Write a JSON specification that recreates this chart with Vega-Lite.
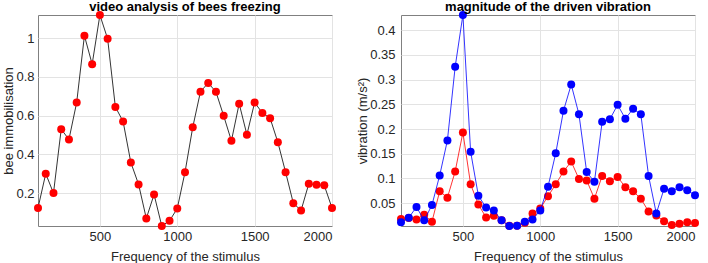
{
  "$schema": "https://vega.github.io/schema/vega-lite/v6.json",
  "padding": {"left": 2, "top": 0, "right": 0, "bottom": 0},
  "autosize": {"type": "pad"},
  "bounds": "flush",
  "spacing": 69,
  "datasets": {
    "bees": [
      {"freq": 100, "value": 0.123}, {"freq": 150, "value": 0.30}, {"freq": 200, "value": 0.20},
      {"freq": 250, "value": 0.53}, {"freq": 300, "value": 0.477}, {"freq": 350, "value": 0.668},
      {"freq": 400, "value": 1.013}, {"freq": 450, "value": 0.866}, {"freq": 500, "value": 1.12},
      {"freq": 550, "value": 0.997}, {"freq": 600, "value": 0.645}, {"freq": 650, "value": 0.57},
      {"freq": 700, "value": 0.358}, {"freq": 750, "value": 0.245}, {"freq": 800, "value": 0.069},
      {"freq": 850, "value": 0.193}, {"freq": 900, "value": 0.03}, {"freq": 950, "value": 0.057},
      {"freq": 1000, "value": 0.12}, {"freq": 1050, "value": 0.308}, {"freq": 1100, "value": 0.54},
      {"freq": 1150, "value": 0.724}, {"freq": 1200, "value": 0.769}, {"freq": 1250, "value": 0.723},
      {"freq": 1300, "value": 0.599}, {"freq": 1350, "value": 0.47}, {"freq": 1400, "value": 0.662},
      {"freq": 1450, "value": 0.502}, {"freq": 1500, "value": 0.668}, {"freq": 1550, "value": 0.614},
      {"freq": 1600, "value": 0.587}, {"freq": 1650, "value": 0.463}, {"freq": 1700, "value": 0.308},
      {"freq": 1750, "value": 0.148}, {"freq": 1800, "value": 0.11}, {"freq": 1850, "value": 0.248},
      {"freq": 1900, "value": 0.243}, {"freq": 1950, "value": 0.24}, {"freq": 2000, "value": 0.123}
    ],
    "vib": [
      {"freq": 100, "series": "red", "value": 0.018}, {"freq": 150, "series": "red", "value": 0.02},
      {"freq": 200, "series": "red", "value": 0.017}, {"freq": 250, "series": "red", "value": 0.0265},
      {"freq": 300, "series": "red", "value": 0.012}, {"freq": 350, "series": "red", "value": 0.074},
      {"freq": 400, "series": "red", "value": 0.061}, {"freq": 450, "series": "red", "value": 0.114},
      {"freq": 500, "series": "red", "value": 0.193}, {"freq": 550, "series": "red", "value": 0.088},
      {"freq": 600, "series": "red", "value": 0.047}, {"freq": 650, "series": "red", "value": 0.021},
      {"freq": 700, "series": "red", "value": 0.0245}, {"freq": 750, "series": "red", "value": 0.015},
      {"freq": 800, "series": "red", "value": 0.004}, {"freq": 850, "series": "red", "value": 0.004},
      {"freq": 900, "series": "red", "value": 0.01}, {"freq": 950, "series": "red", "value": 0.029},
      {"freq": 1000, "series": "red", "value": 0.039}, {"freq": 1050, "series": "red", "value": 0.064},
      {"freq": 1100, "series": "red", "value": 0.088}, {"freq": 1150, "series": "red", "value": 0.114},
      {"freq": 1200, "series": "red", "value": 0.134}, {"freq": 1250, "series": "red", "value": 0.099},
      {"freq": 1300, "series": "red", "value": 0.096}, {"freq": 1350, "series": "red", "value": 0.059},
      {"freq": 1400, "series": "red", "value": 0.105}, {"freq": 1450, "series": "red", "value": 0.094},
      {"freq": 1500, "series": "red", "value": 0.103}, {"freq": 1550, "series": "red", "value": 0.082},
      {"freq": 1600, "series": "red", "value": 0.074}, {"freq": 1650, "series": "red", "value": 0.059},
      {"freq": 1700, "series": "red", "value": 0.033}, {"freq": 1750, "series": "red", "value": 0.025},
      {"freq": 1800, "series": "red", "value": 0.013}, {"freq": 1850, "series": "red", "value": 0.0055},
      {"freq": 1900, "series": "red", "value": 0.008}, {"freq": 1950, "series": "red", "value": 0.011},
      {"freq": 2000, "series": "red", "value": 0.0097},
      {"freq": 100, "series": "blue", "value": 0.011}, {"freq": 150, "series": "blue", "value": 0.0205},
      {"freq": 200, "series": "blue", "value": 0.042}, {"freq": 250, "series": "blue", "value": 0.015},
      {"freq": 300, "series": "blue", "value": 0.046}, {"freq": 350, "series": "blue", "value": 0.106},
      {"freq": 400, "series": "blue", "value": 0.177}, {"freq": 450, "series": "blue", "value": 0.326},
      {"freq": 500, "series": "blue", "value": 0.431}, {"freq": 550, "series": "blue", "value": 0.154},
      {"freq": 600, "series": "blue", "value": 0.065}, {"freq": 650, "series": "blue", "value": 0.041},
      {"freq": 700, "series": "blue", "value": 0.035}, {"freq": 750, "series": "blue", "value": 0.015},
      {"freq": 800, "series": "blue", "value": 0.0036}, {"freq": 850, "series": "blue", "value": 0.004},
      {"freq": 900, "series": "blue", "value": 0.012}, {"freq": 950, "series": "blue", "value": 0.017},
      {"freq": 1000, "series": "blue", "value": 0.035}, {"freq": 1050, "series": "blue", "value": 0.083},
      {"freq": 1100, "series": "blue", "value": 0.151}, {"freq": 1150, "series": "blue", "value": 0.237},
      {"freq": 1200, "series": "blue", "value": 0.29}, {"freq": 1250, "series": "blue", "value": 0.23},
      {"freq": 1300, "series": "blue", "value": 0.113}, {"freq": 1350, "series": "blue", "value": 0.093},
      {"freq": 1400, "series": "blue", "value": 0.215}, {"freq": 1450, "series": "blue", "value": 0.22},
      {"freq": 1500, "series": "blue", "value": 0.249}, {"freq": 1550, "series": "blue", "value": 0.221},
      {"freq": 1600, "series": "blue", "value": 0.241}, {"freq": 1650, "series": "blue", "value": 0.23},
      {"freq": 1700, "series": "blue", "value": 0.105}, {"freq": 1750, "series": "blue", "value": 0.029},
      {"freq": 1800, "series": "blue", "value": 0.079}, {"freq": 1850, "series": "blue", "value": 0.074},
      {"freq": 1900, "series": "blue", "value": 0.082}, {"freq": 1950, "series": "blue", "value": 0.076},
      {"freq": 2000, "series": "blue", "value": 0.066}
    ]
  },
  "hconcat": [
    {
      "width": 294,
      "height": 211,
      "title": {"text": "video analysis of bees freezing", "fontSize": 13, "fontWeight": "bold", "font": "Liberation Sans", "color": "#000000", "offset": -3, "anchor": "middle"},
      "data": {"name": "bees"},
      "encoding": {
        "x": {"field": "freq", "type": "quantitative", "title": "Frequency of the stimulus",
          "scale": {"domain": [100, 2000], "nice": false, "zero": false},
          "axis": {"values": [500, 1000, 1500, 2000], "format": "d", "labelPadding": 4, "titlePadding": 7}},
        "y": {"field": "value", "type": "quantitative", "title": "bee immobilisation",
          "scale": {"domain": [0.03, 1.12], "nice": false, "zero": false},
          "axis": {"values": [0.2, 0.4, 0.6, 0.8, 1], "format": "~g", "labelPadding": 4, "minExtent": 22, "maxExtent": 22, "titlePadding": 0.5}}
      },
      "layer": [
        {"mark": {"type": "line", "color": "#000000", "strokeWidth": 0.8}},
        {"mark": {"type": "point", "filled": true, "color": "#ff0000", "opacity": 1, "size": 64}}
      ]
    },
    {
      "width": 294,
      "height": 211,
      "title": {"text": "magnitude of the driven vibration", "fontSize": 13, "fontWeight": "bold", "font": "Liberation Sans", "color": "#000000", "offset": -3, "anchor": "middle"},
      "data": {"name": "vib"},
      "encoding": {
        "x": {"field": "freq", "type": "quantitative", "title": "Frequency of the stimulus",
          "scale": {"domain": [100, 2000], "nice": false, "zero": false},
          "axis": {"values": [500, 1000, 1500, 2000], "format": "d", "labelPadding": 4, "titlePadding": 7}},
        "y": {"field": "value", "type": "quantitative", "title": "vibration (m/s²)",
          "scale": {"domain": [0.0036, 0.431], "nice": false, "zero": false},
          "axis": {"values": [0.05, 0.1, 0.15, 0.2, 0.25, 0.3, 0.35, 0.4], "format": "~g", "labelPadding": 6, "minExtent": 30, "maxExtent": 30, "titlePadding": 1.5}}
      },
      "layer": [
        {"transform": [{"filter": "datum.series === 'red'"}], "mark": {"type": "line", "color": "#ff0000", "strokeWidth": 0.8}},
        {"transform": [{"filter": "datum.series === 'red'"}], "mark": {"type": "point", "filled": true, "color": "#ff0000", "opacity": 1, "size": 64}},
        {"transform": [{"filter": "datum.series === 'blue'"}], "mark": {"type": "line", "color": "#0000ff", "strokeWidth": 0.8}},
        {"transform": [{"filter": "datum.series === 'blue'"}], "mark": {"type": "point", "filled": true, "color": "#0000ff", "opacity": 1, "size": 64}}
      ]
    }
  ],
  "config": {
    "view": {"stroke": "#808080", "strokeWidth": 1},
    "axis": {
      "labelFont": "Liberation Sans", "titleFont": "Liberation Sans",
      "labelFontSize": 13, "titleFontSize": 13, "titleFontWeight": "normal",
      "labelColor": "#262626", "titleColor": "#262626",
      "ticks": false, "domain": false,
      "grid": true, "gridColor": "#e3e3e3", "gridWidth": 1
    }
  }
}
